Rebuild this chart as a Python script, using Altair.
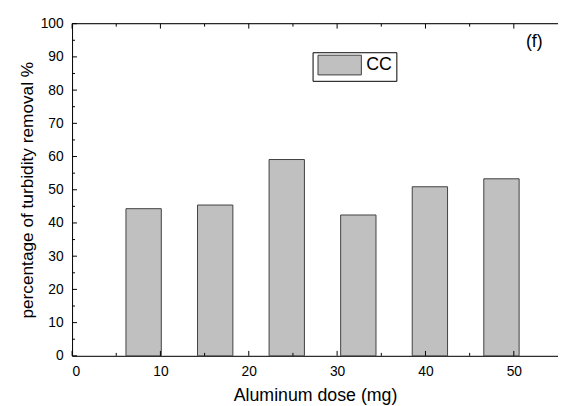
import altair as alt
import pandas as pd

# ---- data ----
dose = [8.1, 16.2, 24.3, 32.4, 40.5, 48.6]          # bar centres (mg)
removal = [44.3, 45.4, 59.1, 42.4, 50.9, 53.3]      # turbidity removal %
series = ["CC"] * 6
x_major = [0, 10, 20, 30, 40, 50]
x_minor = [5, 15, 25, 35, 45]
y_major = [0, 10, 20, 30, 40, 50, 60, 70, 80, 90, 100]
y_minor = [5, 15, 25, 35, 45, 55, 65, 75, 85, 95]
panel_label = ["(f)"]
bar_half_width = 2.0

W, H = 493, 337
FONT = "Liberation Sans"

df = pd.DataFrame({"dose": dose, "removal": removal, "series": series})
xscale = alt.Scale(domain=[0, 55], nice=False, zero=False)
yscale = alt.Scale(domain=[0, 100], nice=False)

xaxis = alt.Axis(values=x_major, title="Aluminum dose (mg)", ticks=False,
                 grid=False, domainColor="black", labelPadding=9,
                 labelFontSize=14, titleFontSize=18, titleFontWeight="normal",
                 titleY=40, titleBaseline="middle", labelColor="black",
                 titleColor="black", labelFont=FONT, titleFont=FONT)
yaxis = alt.Axis(values=y_major, title="percentage of turbidity removal %",
                 ticks=False, grid=False, domainColor="black", labelPadding=9,
                 labelFontSize=14, titleFontSize=17.5, titleFontWeight="normal",
                 titleX=-45, titleY=H / 2, titleAngle=270, titleAlign="center",
                 titleBaseline="middle", labelColor="black", titleColor="black",
                 labelFont=FONT, titleFont=FONT)

bars = alt.Chart(df).transform_calculate(
    x0=f"datum.dose - {bar_half_width}", x1=f"datum.dose + {bar_half_width}"
).mark_bar(stroke="#404040", strokeWidth=1).encode(
    x=alt.X("x0:Q", scale=xscale, axis=xaxis),
    x2="x1:Q",
    y=alt.Y("removal:Q", scale=yscale, axis=yaxis),
    y2=alt.datum(0),
    color=alt.Color("series:N", scale=alt.Scale(range=["#c0c0c0"]),
                    legend=alt.Legend(title=None, orient="none", legendX=244, legendY=29,
                                      symbolType="M-4.4,-2L4.4,-2L4.4,2L-4.4,2Z",
                                      symbolSize=100, symbolOffset=14.5,
                                      symbolStrokeColor="#404040",
                                      symbolStrokeWidth=1, strokeColor="black",
                                      fillColor="white", padding=4, labelFontSize=18,
                                      labelFont=FONT, labelOffset=18, labelColor="black")),
)

def ticks_x(vals, length, top):
    d = pd.DataFrame({"v": vals})
    y0, y1 = (0, length) if top else (H, H - length)
    return alt.Chart(d).mark_rule(color="black", strokeWidth=1).encode(
        x=alt.X("v:Q", scale=xscale, axis=xaxis), y=alt.value(y0), y2=alt.value(y1))

def ticks_y(vals, length):
    d = pd.DataFrame({"v": vals})
    return alt.Chart(d).mark_rule(color="black", strokeWidth=1).encode(
        y=alt.Y("v:Q", scale=yscale, axis=yaxis), x=alt.value(0), x2=alt.value(length))

top_line = alt.Chart(pd.DataFrame({"a": [0]})).mark_rule(color="black", strokeWidth=1).encode(
    x=alt.value(0), x2=alt.value(W), y=alt.value(0))

label = alt.Chart(pd.DataFrame({"t": panel_label})).mark_text(
    fontSize=18, font=FONT, color="black").encode(
    text="t:N", x=alt.value(469), y=alt.value(19))

chart = alt.layer(
    bars,
    ticks_x(x_major, 5, False), ticks_x(x_minor, 3, False),
    ticks_x(x_major, 5, True), ticks_x(x_minor, 3, True),
    ticks_y(y_major, 5), ticks_y(y_minor, 3),
    top_line, label,
).properties(
    width=W, height=H,
    autosize=alt.AutoSizeParams(type="none"),
    padding={"left": 65, "top": 13, "right": 0, "bottom": 48},
).configure_view(stroke=None).configure(background="white")

chart.save("out.html", embed_options={"renderer": "svg", "actions": False})
